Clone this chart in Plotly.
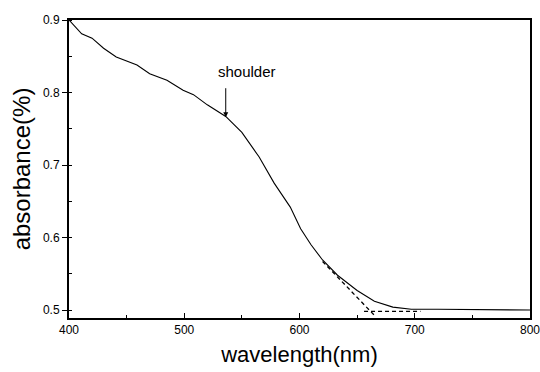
import plotly.graph_objects as go

# Absorbance spectrum
wavelength = [400, 411, 420, 430, 441, 459, 470, 485, 499, 508, 520, 536, 550,
              565, 578, 592, 601, 610, 620, 633, 650, 665, 681, 697, 720, 760, 789, 800]
absorbance = [0.900, 0.881, 0.875, 0.861, 0.849, 0.838, 0.826, 0.817, 0.803, 0.797,
              0.783, 0.767, 0.745, 0.711, 0.675, 0.642, 0.612, 0.590, 0.569, 0.548,
              0.527, 0.512, 0.504, 0.501, 0.501, 0.501, 0.500, 0.500]

# Tangent (dashed) lines
tangent_x = [620, 666]
tangent_y = [0.567, 0.491]
base_x = [656, 705]
base_y = [0.498, 0.498]

x_ticks = [400, 500, 600, 700, 800]
y_ticks = [0.5, 0.6, 0.7, 0.8, 0.9]

font = "Liberation Sans, Arial, sans-serif"
tick_font = "Liberation Sans Narrow, Arial Narrow, Liberation Sans, sans-serif"

fig = go.Figure()
fig.add_trace(go.Scatter(x=wavelength, y=absorbance, mode="lines",
                         line=dict(color="black", width=1.1), showlegend=False))
fig.add_trace(go.Scatter(x=tangent_x, y=tangent_y, mode="lines",
                         line=dict(color="black", width=1.3, dash="4px,3px"), showlegend=False))
fig.add_trace(go.Scatter(x=base_x, y=base_y, mode="lines",
                         line=dict(color="black", width=1.3, dash="4px,3px"), showlegend=False))

fig.add_annotation(x=554.5, y=0.829, xref="x", yref="y", text="shoulder",
                   showarrow=False, font=dict(family=font, size=15, color="black"))
fig.add_annotation(x=536, y=0.766, ax=536, ay=0.808, xref="x", yref="y",
                   axref="x", ayref="y", text="", showarrow=True,
                   arrowhead=2, arrowsize=1, arrowwidth=1, arrowcolor="black")

fig.update_layout(
    width=540, height=372,
    margin=dict(l=69, r=10, t=20, b=54, autoexpand=False),
    paper_bgcolor="white", plot_bgcolor="white",
    font=dict(family=font, color="black"),
)
fig.update_xaxes(
    range=[400, 800], tickvals=x_ticks, ticktext=[str(v) for v in x_ticks],
    automargin=False, ticklabeloverflow="allow",
    showgrid=False, zeroline=False, showline=True, linecolor="black", linewidth=2,
    mirror=True, ticks="inside", ticklen=5, tickwidth=1, tickcolor="black",
    tickfont=dict(family=tick_font, size=12),
    minor=dict(dtick=50, ticks="inside", ticklen=3, tickcolor="black"),
    title=dict(text="wavelength(nm)", font=dict(family=font, size=22), standoff=10),
)
fig.update_yaxes(
    range=[0.489, 0.9], tickvals=y_ticks, ticktext=[f"{v:.1f}" for v in y_ticks],
    automargin=False, ticklabeloverflow="allow",
    showgrid=False, zeroline=False, showline=True, linecolor="black", linewidth=2,
    mirror=True, ticks="outside", ticklen=5, tickwidth=1, tickcolor="black",
    tickfont=dict(family=tick_font, size=12),
    minor=dict(dtick=0.05, tick0=0.5, ticks="inside", ticklen=3, tickcolor="black"),
    title=dict(text="absorbance(%)", font=dict(family=font, size=24), standoff=6),
)

fig.write_html("out.html")
